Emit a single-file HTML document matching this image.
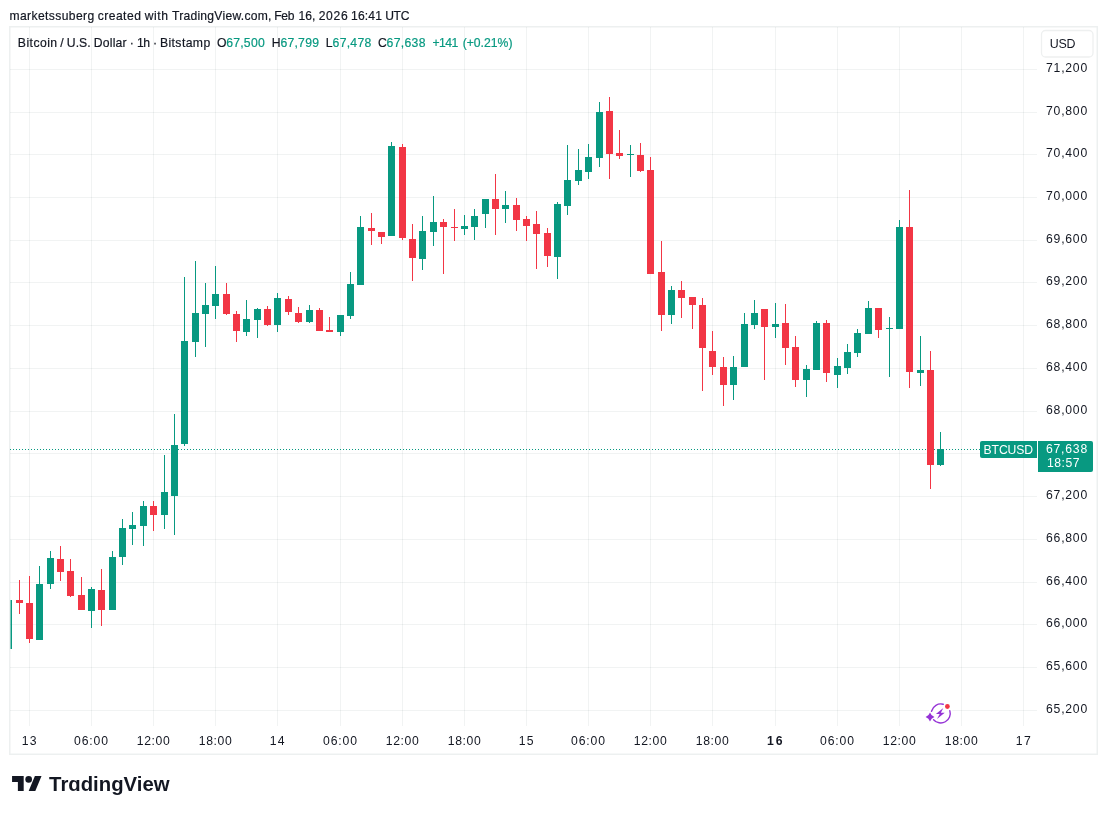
<!DOCTYPE html>
<html><head><meta charset="utf-8"><style>
html,body{margin:0;padding:0;background:#fff;}
body{width:1107px;height:814px;overflow:hidden;position:relative;font-family:"Liberation Sans",sans-serif;}
svg{position:absolute;left:0;top:0;will-change:transform;}
svg text{font-family:"Liberation Sans",sans-serif;}
</style></head><body>
<svg width="1107" height="814" viewBox="0 0 1107 814">
<defs><clipPath id="ca"><rect x="10.5" y="27" width="1026.5" height="699"/></clipPath></defs>
<rect x="9.75" y="26.75" width="1087.5" height="727.5" fill="none" stroke="#EDF0F0" stroke-width="1.5"/>
<g><rect x="29" y="27" width="1" height="699" fill="rgba(30,60,62,0.062)"/><rect x="91" y="27" width="1" height="699" fill="rgba(30,60,62,0.062)"/><rect x="153" y="27" width="1" height="699" fill="rgba(30,60,62,0.062)"/><rect x="215" y="27" width="1" height="699" fill="rgba(30,60,62,0.062)"/><rect x="277" y="27" width="1" height="699" fill="rgba(30,60,62,0.062)"/><rect x="340" y="27" width="1" height="699" fill="rgba(30,60,62,0.062)"/><rect x="402" y="27" width="1" height="699" fill="rgba(30,60,62,0.062)"/><rect x="464" y="27" width="1" height="699" fill="rgba(30,60,62,0.062)"/><rect x="526" y="27" width="1" height="699" fill="rgba(30,60,62,0.062)"/><rect x="588" y="27" width="1" height="699" fill="rgba(30,60,62,0.062)"/><rect x="650" y="27" width="1" height="699" fill="rgba(30,60,62,0.062)"/><rect x="712" y="27" width="1" height="699" fill="rgba(30,60,62,0.062)"/><rect x="775" y="27" width="1" height="699" fill="rgba(30,60,62,0.062)"/><rect x="837" y="27" width="1" height="699" fill="rgba(30,60,62,0.062)"/><rect x="899" y="27" width="1" height="699" fill="rgba(30,60,62,0.062)"/><rect x="961" y="27" width="1" height="699" fill="rgba(30,60,62,0.062)"/><rect x="1023" y="27" width="1" height="699" fill="rgba(30,60,62,0.062)"/><rect x="10" y="69" width="1027" height="1" fill="rgba(30,60,62,0.062)"/><rect x="10" y="112" width="1027" height="1" fill="rgba(30,60,62,0.062)"/><rect x="10" y="154" width="1027" height="1" fill="rgba(30,60,62,0.062)"/><rect x="10" y="197" width="1027" height="1" fill="rgba(30,60,62,0.062)"/><rect x="10" y="240" width="1027" height="1" fill="rgba(30,60,62,0.062)"/><rect x="10" y="282" width="1027" height="1" fill="rgba(30,60,62,0.062)"/><rect x="10" y="325" width="1027" height="1" fill="rgba(30,60,62,0.062)"/><rect x="10" y="368" width="1027" height="1" fill="rgba(30,60,62,0.062)"/><rect x="10" y="411" width="1027" height="1" fill="rgba(30,60,62,0.062)"/><rect x="10" y="453" width="1027" height="1" fill="rgba(30,60,62,0.062)"/><rect x="10" y="496" width="1027" height="1" fill="rgba(30,60,62,0.062)"/><rect x="10" y="539" width="1027" height="1" fill="rgba(30,60,62,0.062)"/><rect x="10" y="582" width="1027" height="1" fill="rgba(30,60,62,0.062)"/><rect x="10" y="624" width="1027" height="1" fill="rgba(30,60,62,0.062)"/><rect x="10" y="667" width="1027" height="1" fill="rgba(30,60,62,0.062)"/><rect x="10" y="710" width="1027" height="1" fill="rgba(30,60,62,0.062)"/></g>
<line x1="10" y1="449.5" x2="980" y2="449.5" stroke="#089981" stroke-width="1" stroke-dasharray="1 2"/>
<g clip-path="url(#ca)"><rect x="8" y="600" width="1" height="49" fill="#089981"/><rect x="5" y="600" width="7" height="49" fill="#089981"/><rect x="19" y="580" width="1" height="34" fill="#F23645"/><rect x="16" y="600" width="7" height="3" fill="#F23645"/><rect x="29" y="576" width="1" height="67" fill="#F23645"/><rect x="26" y="603" width="7" height="36" fill="#F23645"/><rect x="39" y="566" width="1" height="74" fill="#089981"/><rect x="36" y="584" width="7" height="56" fill="#089981"/><rect x="50" y="551" width="1" height="38" fill="#089981"/><rect x="47" y="558" width="7" height="26" fill="#089981"/><rect x="60" y="546" width="1" height="35" fill="#F23645"/><rect x="57" y="559" width="7" height="13" fill="#F23645"/><rect x="70" y="559" width="1" height="38" fill="#F23645"/><rect x="67" y="571" width="7" height="25" fill="#F23645"/><rect x="81" y="577" width="1" height="33" fill="#F23645"/><rect x="78" y="595" width="7" height="15" fill="#F23645"/><rect x="91" y="587" width="1" height="41" fill="#089981"/><rect x="88" y="589" width="7" height="22" fill="#089981"/><rect x="101" y="569" width="1" height="57" fill="#F23645"/><rect x="98" y="590" width="7" height="20" fill="#F23645"/><rect x="112" y="551" width="1" height="59" fill="#089981"/><rect x="109" y="557" width="7" height="53" fill="#089981"/><rect x="122" y="519" width="1" height="46" fill="#089981"/><rect x="119" y="528" width="7" height="29" fill="#089981"/><rect x="132" y="512" width="1" height="33" fill="#089981"/><rect x="129" y="525" width="7" height="4" fill="#089981"/><rect x="143" y="501" width="1" height="45" fill="#089981"/><rect x="140" y="506" width="7" height="20" fill="#089981"/><rect x="153" y="501" width="1" height="30" fill="#F23645"/><rect x="150" y="506" width="7" height="9" fill="#F23645"/><rect x="164" y="455" width="1" height="74" fill="#089981"/><rect x="161" y="492" width="7" height="23" fill="#089981"/><rect x="174" y="414" width="1" height="121" fill="#089981"/><rect x="171" y="445" width="7" height="51" fill="#089981"/><rect x="184" y="277" width="1" height="169" fill="#089981"/><rect x="181" y="341" width="7" height="103" fill="#089981"/><rect x="195" y="261" width="1" height="96" fill="#089981"/><rect x="192" y="313" width="7" height="29" fill="#089981"/><rect x="205" y="283" width="1" height="64" fill="#089981"/><rect x="202" y="305" width="7" height="9" fill="#089981"/><rect x="215" y="266" width="1" height="53" fill="#089981"/><rect x="212" y="294" width="7" height="12" fill="#089981"/><rect x="226" y="283" width="1" height="32" fill="#F23645"/><rect x="223" y="294" width="7" height="20" fill="#F23645"/><rect x="236" y="311" width="1" height="31" fill="#F23645"/><rect x="233" y="314" width="7" height="17" fill="#F23645"/><rect x="246" y="300" width="1" height="36" fill="#089981"/><rect x="243" y="319" width="7" height="13" fill="#089981"/><rect x="257" y="308" width="1" height="30" fill="#089981"/><rect x="254" y="309" width="7" height="11" fill="#089981"/><rect x="267" y="306" width="1" height="20" fill="#F23645"/><rect x="264" y="309" width="7" height="16" fill="#F23645"/><rect x="277" y="293" width="1" height="39" fill="#089981"/><rect x="274" y="298" width="7" height="27" fill="#089981"/><rect x="288" y="296" width="1" height="19" fill="#F23645"/><rect x="285" y="299" width="7" height="13" fill="#F23645"/><rect x="298" y="307" width="1" height="16" fill="#F23645"/><rect x="295" y="313" width="7" height="9" fill="#F23645"/><rect x="309" y="305" width="1" height="18" fill="#089981"/><rect x="306" y="310" width="7" height="12" fill="#089981"/><rect x="319" y="308" width="1" height="23" fill="#F23645"/><rect x="316" y="310" width="7" height="21" fill="#F23645"/><rect x="329" y="317" width="1" height="15" fill="#F23645"/><rect x="326" y="330" width="7" height="2" fill="#F23645"/><rect x="340" y="315" width="1" height="21" fill="#089981"/><rect x="337" y="315" width="7" height="17" fill="#089981"/><rect x="350" y="272" width="1" height="47" fill="#089981"/><rect x="347" y="284" width="7" height="32" fill="#089981"/><rect x="360" y="216" width="1" height="69" fill="#089981"/><rect x="357" y="227" width="7" height="58" fill="#089981"/><rect x="371" y="213" width="1" height="32" fill="#F23645"/><rect x="368" y="228" width="7" height="3" fill="#F23645"/><rect x="381" y="232" width="1" height="12" fill="#F23645"/><rect x="378" y="232" width="7" height="5" fill="#F23645"/><rect x="391" y="142" width="1" height="94" fill="#089981"/><rect x="388" y="146" width="7" height="90" fill="#089981"/><rect x="402" y="144" width="1" height="96" fill="#F23645"/><rect x="399" y="147" width="7" height="91" fill="#F23645"/><rect x="412" y="224" width="1" height="57" fill="#F23645"/><rect x="409" y="239" width="7" height="19" fill="#F23645"/><rect x="422" y="216" width="1" height="54" fill="#089981"/><rect x="419" y="231" width="7" height="28" fill="#089981"/><rect x="433" y="196" width="1" height="50" fill="#089981"/><rect x="430" y="222" width="7" height="10" fill="#089981"/><rect x="443" y="219" width="1" height="55" fill="#F23645"/><rect x="440" y="222" width="7" height="5" fill="#F23645"/><rect x="454" y="209" width="1" height="32" fill="#F23645"/><rect x="451" y="227" width="7" height="1" fill="#F23645"/><rect x="464" y="215" width="1" height="20" fill="#089981"/><rect x="461" y="226" width="7" height="3" fill="#089981"/><rect x="474" y="209" width="1" height="31" fill="#089981"/><rect x="471" y="216" width="7" height="11" fill="#089981"/><rect x="485" y="199" width="1" height="29" fill="#089981"/><rect x="482" y="199" width="7" height="15" fill="#089981"/><rect x="495" y="174" width="1" height="61" fill="#F23645"/><rect x="492" y="199" width="7" height="10" fill="#F23645"/><rect x="505" y="191" width="1" height="32" fill="#089981"/><rect x="502" y="205" width="7" height="4" fill="#089981"/><rect x="516" y="198" width="1" height="33" fill="#F23645"/><rect x="513" y="205" width="7" height="15" fill="#F23645"/><rect x="526" y="216" width="1" height="25" fill="#F23645"/><rect x="523" y="219" width="7" height="7" fill="#F23645"/><rect x="536" y="211" width="1" height="58" fill="#F23645"/><rect x="533" y="224" width="7" height="10" fill="#F23645"/><rect x="547" y="228" width="1" height="39" fill="#F23645"/><rect x="544" y="233" width="7" height="23" fill="#F23645"/><rect x="557" y="202" width="1" height="77" fill="#089981"/><rect x="554" y="204" width="7" height="53" fill="#089981"/><rect x="567" y="145" width="1" height="70" fill="#089981"/><rect x="564" y="180" width="7" height="26" fill="#089981"/><rect x="578" y="149" width="1" height="36" fill="#089981"/><rect x="575" y="170" width="7" height="11" fill="#089981"/><rect x="588" y="144" width="1" height="35" fill="#089981"/><rect x="585" y="157" width="7" height="15" fill="#089981"/><rect x="599" y="102" width="1" height="65" fill="#089981"/><rect x="596" y="112" width="7" height="46" fill="#089981"/><rect x="609" y="97" width="1" height="82" fill="#F23645"/><rect x="606" y="111" width="7" height="43" fill="#F23645"/><rect x="619" y="130" width="1" height="29" fill="#F23645"/><rect x="616" y="153" width="7" height="3" fill="#F23645"/><rect x="630" y="145" width="1" height="32" fill="#089981"/><rect x="627" y="154" width="7" height="1" fill="#089981"/><rect x="640" y="143" width="1" height="29" fill="#F23645"/><rect x="637" y="155" width="7" height="16" fill="#F23645"/><rect x="650" y="157" width="1" height="117" fill="#F23645"/><rect x="647" y="170" width="7" height="104" fill="#F23645"/><rect x="661" y="241" width="1" height="90" fill="#F23645"/><rect x="658" y="272" width="7" height="43" fill="#F23645"/><rect x="671" y="286" width="1" height="38" fill="#089981"/><rect x="668" y="290" width="7" height="25" fill="#089981"/><rect x="681" y="281" width="1" height="37" fill="#F23645"/><rect x="678" y="290" width="7" height="8" fill="#F23645"/><rect x="692" y="297" width="1" height="32" fill="#F23645"/><rect x="689" y="297" width="7" height="8" fill="#F23645"/><rect x="702" y="298" width="1" height="93" fill="#F23645"/><rect x="699" y="305" width="7" height="43" fill="#F23645"/><rect x="712" y="331" width="1" height="44" fill="#F23645"/><rect x="709" y="351" width="7" height="16" fill="#F23645"/><rect x="723" y="357" width="1" height="49" fill="#F23645"/><rect x="720" y="367" width="7" height="18" fill="#F23645"/><rect x="733" y="356" width="1" height="44" fill="#089981"/><rect x="730" y="367" width="7" height="18" fill="#089981"/><rect x="744" y="313" width="1" height="54" fill="#089981"/><rect x="741" y="324" width="7" height="43" fill="#089981"/><rect x="754" y="300" width="1" height="29" fill="#089981"/><rect x="751" y="313" width="7" height="12" fill="#089981"/><rect x="764" y="309" width="1" height="71" fill="#F23645"/><rect x="761" y="309" width="7" height="18" fill="#F23645"/><rect x="775" y="303" width="1" height="35" fill="#089981"/><rect x="772" y="324" width="7" height="3" fill="#089981"/><rect x="785" y="304" width="1" height="61" fill="#F23645"/><rect x="782" y="323" width="7" height="25" fill="#F23645"/><rect x="795" y="336" width="1" height="51" fill="#F23645"/><rect x="792" y="347" width="7" height="33" fill="#F23645"/><rect x="806" y="365" width="1" height="32" fill="#089981"/><rect x="803" y="369" width="7" height="11" fill="#089981"/><rect x="816" y="321" width="1" height="49" fill="#089981"/><rect x="813" y="323" width="7" height="47" fill="#089981"/><rect x="826" y="320" width="1" height="62" fill="#F23645"/><rect x="823" y="323" width="7" height="50" fill="#F23645"/><rect x="837" y="358" width="1" height="30" fill="#089981"/><rect x="834" y="366" width="7" height="9" fill="#089981"/><rect x="847" y="344" width="1" height="30" fill="#089981"/><rect x="844" y="352" width="7" height="16" fill="#089981"/><rect x="857" y="329" width="1" height="28" fill="#089981"/><rect x="854" y="333" width="7" height="20" fill="#089981"/><rect x="868" y="301" width="1" height="33" fill="#089981"/><rect x="865" y="308" width="7" height="26" fill="#089981"/><rect x="878" y="308" width="1" height="30" fill="#F23645"/><rect x="875" y="308" width="7" height="22" fill="#F23645"/><rect x="889" y="317" width="1" height="60" fill="#089981"/><rect x="886" y="328" width="7" height="1" fill="#089981"/><rect x="899" y="220" width="1" height="109" fill="#089981"/><rect x="896" y="227" width="7" height="102" fill="#089981"/><rect x="909" y="190" width="1" height="198" fill="#F23645"/><rect x="906" y="227" width="7" height="145" fill="#F23645"/><rect x="920" y="336" width="1" height="50" fill="#089981"/><rect x="917" y="370" width="7" height="3" fill="#089981"/><rect x="930" y="351" width="1" height="138" fill="#F23645"/><rect x="927" y="370" width="7" height="95" fill="#F23645"/><rect x="940" y="432" width="1" height="34" fill="#089981"/><rect x="937" y="449" width="7" height="16" fill="#089981"/></g>
<rect x="1041.5" y="30.5" width="51.5" height="26.5" rx="4" fill="#fff" stroke="#EEF0F0" stroke-width="1.3"/>
<text x="1049.74" y="48" font-size="12.4" fill="#131722" textLength="25.75" lengthAdjust="spacing">USD</text>
<path d="M982,441 H1037 V458 H982 A2,2 0 0 1 980,456 V443 A2,2 0 0 1 982,441 Z" fill="#089981"/>
<path d="M1038,441 H1091 A2,2 0 0 1 1093,443 V470 A2,2 0 0 1 1091,472 H1038 Z" fill="#089981"/>
<text x="983.6" y="453.6" font-size="12.2" fill="#fff" textLength="49.38" lengthAdjust="spacing">BTCUSD</text>
<text x="1045.88" y="453" font-size="12.2" fill="#fff" textLength="41.35" lengthAdjust="spacing">67,638</text>
<text x="1046.97" y="466.8" font-size="12.2" fill="#fff" textLength="32.64" lengthAdjust="spacing">18:57</text>
<text x="9.5" y="19.9" font-size="12.1" fill="#131722" textLength="84.78" lengthAdjust="spacing" stroke="#131722" stroke-width="0.2">marketssuberg</text><text x="97.69" y="19.9" font-size="12.1" fill="#131722" textLength="43.19" lengthAdjust="spacing" stroke="#131722" stroke-width="0.2">created</text><text x="144.82" y="19.9" font-size="12.1" fill="#131722" textLength="23.17" lengthAdjust="spacing" stroke="#131722" stroke-width="0.2">with</text><text x="171.93" y="19.9" font-size="12.1" fill="#131722" textLength="99.46" lengthAdjust="spacing" stroke="#131722" stroke-width="0.2">TradingView.com,</text><text x="274.31" y="19.9" font-size="12.1" fill="#131722" textLength="20.2" lengthAdjust="spacing" stroke="#131722" stroke-width="0.2">Feb</text><text x="298.38" y="19.9" font-size="12.1" fill="#131722" textLength="17.01" lengthAdjust="spacing" stroke="#131722" stroke-width="0.2">16,</text><text x="318.69" y="19.9" font-size="12.1" fill="#131722" textLength="28.94" lengthAdjust="spacing" stroke="#131722" stroke-width="0.2">2026</text><text x="351.08" y="19.9" font-size="12.1" fill="#131722" textLength="30.81" lengthAdjust="spacing" stroke="#131722" stroke-width="0.2">16:41</text><text x="385.17" y="19.9" font-size="12.1" fill="#131722" textLength="24.19" lengthAdjust="spacing" stroke="#131722" stroke-width="0.2">UTC</text><text x="17.8" y="46.8" font-size="12.2" fill="#131722" textLength="39.29" lengthAdjust="spacing" stroke="#131722" stroke-width="0.2">Bitcoin</text><text x="60.2" y="46.8" font-size="12.2" fill="#131722" textLength="3.39" lengthAdjust="spacing" stroke="#131722" stroke-width="0.2">/</text><text x="66.76" y="46.8" font-size="12.2" fill="#131722" textLength="23.96" lengthAdjust="spacing" stroke="#131722" stroke-width="0.2">U.S.</text><text x="93.7" y="46.8" font-size="12.2" fill="#131722" textLength="32.9" lengthAdjust="spacing" stroke="#131722" stroke-width="0.2">Dollar</text><text x="129.75" y="46.8" font-size="12.2" fill="#131722" textLength="4.06" lengthAdjust="spacing" stroke="#131722" stroke-width="0.2">·</text><text x="137.07" y="46.8" font-size="12.2" fill="#131722" textLength="13.02" lengthAdjust="spacing" stroke="#131722" stroke-width="0.2">1h</text><text x="152.95" y="46.8" font-size="12.2" fill="#131722" textLength="4.06" lengthAdjust="spacing" stroke="#131722" stroke-width="0.2">·</text><text x="159.9" y="46.8" font-size="12.2" fill="#131722" textLength="50.31" lengthAdjust="spacing" stroke="#131722" stroke-width="0.2">Bitstamp</text><text x="217.02" y="46.8" font-size="12.2" fill="#131722" textLength="9.49" lengthAdjust="spacing" stroke="#131722" stroke-width="0.2">O</text><text x="226.18" y="46.8" font-size="12.2" fill="#089981" textLength="38.5" lengthAdjust="spacing" stroke="#089981" stroke-width="0.2">67,500</text><text x="271.7" y="46.8" font-size="12.2" fill="#131722" textLength="8.81" lengthAdjust="spacing" stroke="#131722" stroke-width="0.2">H</text><text x="280.38" y="46.8" font-size="12.2" fill="#089981" textLength="38.6" lengthAdjust="spacing" stroke="#089981" stroke-width="0.2">67,799</text><text x="325.7" y="46.8" font-size="12.2" fill="#131722" textLength="6.79" lengthAdjust="spacing" stroke="#131722" stroke-width="0.2">L</text><text x="332.58" y="46.8" font-size="12.2" fill="#089981" textLength="38.65" lengthAdjust="spacing" stroke="#089981" stroke-width="0.2">67,478</text><text x="377.88" y="46.8" font-size="12.2" fill="#131722" textLength="8.81" lengthAdjust="spacing" stroke="#131722" stroke-width="0.2">C</text><text x="386.58" y="46.8" font-size="12.2" fill="#089981" textLength="38.85" lengthAdjust="spacing" stroke="#089981" stroke-width="0.2">67,638</text><text x="432.4" y="46.8" font-size="12.2" fill="#089981" textLength="25.89" lengthAdjust="spacing" stroke="#089981" stroke-width="0.2">+141</text><text x="462.64" y="46.8" font-size="12.2" fill="#089981" textLength="49.81" lengthAdjust="spacing" stroke="#089981" stroke-width="0.2">(+0.21%)</text><text x="1046.07" y="71.9" font-size="12.2" fill="#131722" textLength="41.1" lengthAdjust="spacing">71,200</text><text x="1046.07" y="114.9" font-size="12.2" fill="#131722" textLength="41.1" lengthAdjust="spacing">70,800</text><text x="1046.07" y="156.9" font-size="12.2" fill="#131722" textLength="41.1" lengthAdjust="spacing">70,400</text><text x="1046.07" y="199.9" font-size="12.2" fill="#131722" textLength="41.1" lengthAdjust="spacing">70,000</text><text x="1046.08" y="242.9" font-size="12.2" fill="#131722" textLength="41.1" lengthAdjust="spacing">69,600</text><text x="1046.08" y="284.9" font-size="12.2" fill="#131722" textLength="41.1" lengthAdjust="spacing">69,200</text><text x="1046.08" y="327.9" font-size="12.2" fill="#131722" textLength="41.1" lengthAdjust="spacing">68,800</text><text x="1046.08" y="370.9" font-size="12.2" fill="#131722" textLength="41.1" lengthAdjust="spacing">68,400</text><text x="1046.08" y="413.9" font-size="12.2" fill="#131722" textLength="41.1" lengthAdjust="spacing">68,000</text><text x="1046.08" y="498.9" font-size="12.2" fill="#131722" textLength="41.1" lengthAdjust="spacing">67,200</text><text x="1046.08" y="541.9" font-size="12.2" fill="#131722" textLength="41.1" lengthAdjust="spacing">66,800</text><text x="1046.08" y="584.9" font-size="12.2" fill="#131722" textLength="41.1" lengthAdjust="spacing">66,400</text><text x="1046.08" y="626.9" font-size="12.2" fill="#131722" textLength="41.1" lengthAdjust="spacing">66,000</text><text x="1046.08" y="669.9" font-size="12.2" fill="#131722" textLength="41.1" lengthAdjust="spacing">65,600</text><text x="1046.08" y="712.9" font-size="12.2" fill="#131722" textLength="41.1" lengthAdjust="spacing">65,200</text><text x="21.77" y="744.8" font-size="12.2" fill="#131722" textLength="14.87" lengthAdjust="spacing">13</text><text x="74.12" y="744.8" font-size="12.2" fill="#131722" textLength="33.85" lengthAdjust="spacing">06:00</text><text x="136.72" y="744.8" font-size="12.2" fill="#131722" textLength="33.11" lengthAdjust="spacing">12:00</text><text x="198.72" y="744.8" font-size="12.2" fill="#131722" textLength="33.11" lengthAdjust="spacing">18:00</text><text x="269.77" y="744.8" font-size="12.2" fill="#131722" textLength="14.69" lengthAdjust="spacing">14</text><text x="323.12" y="744.8" font-size="12.2" fill="#131722" textLength="33.85" lengthAdjust="spacing">06:00</text><text x="385.72" y="744.8" font-size="12.2" fill="#131722" textLength="33.11" lengthAdjust="spacing">12:00</text><text x="447.72" y="744.8" font-size="12.2" fill="#131722" textLength="33.11" lengthAdjust="spacing">18:00</text><text x="518.77" y="744.8" font-size="12.2" fill="#131722" textLength="14.84" lengthAdjust="spacing">15</text><text x="571.12" y="744.8" font-size="12.2" fill="#131722" textLength="33.85" lengthAdjust="spacing">06:00</text><text x="633.72" y="744.8" font-size="12.2" fill="#131722" textLength="33.11" lengthAdjust="spacing">12:00</text><text x="695.72" y="744.8" font-size="12.2" fill="#131722" textLength="33.11" lengthAdjust="spacing">18:00</text><text x="766.93" y="744.8" font-size="12.2" fill="#131722" textLength="15.61" lengthAdjust="spacing" font-weight="bold">16</text><text x="820.12" y="744.8" font-size="12.2" fill="#131722" textLength="33.85" lengthAdjust="spacing">06:00</text><text x="882.72" y="744.8" font-size="12.2" fill="#131722" textLength="33.11" lengthAdjust="spacing">12:00</text><text x="944.72" y="744.8" font-size="12.2" fill="#131722" textLength="33.11" lengthAdjust="spacing">18:00</text><text x="1015.77" y="744.8" font-size="12.2" fill="#131722" textLength="14.94" lengthAdjust="spacing">17</text>
<g fill="#131722"><g transform="translate(12.07,772.75) scale(0.83)"><path d="M14 22H7V11H0V4h14v18zM28 22h-8l7.5-18h8L28 22z"/><circle cx="20" cy="8" r="4"/></g>
<text x="49.1" y="790.7" font-size="20.9" font-weight="bold" textLength="120.4" lengthAdjust="spacingAndGlyphs">Tr&#x251;dingView</text></g>
<circle cx="940.6" cy="713.4" r="12" fill="#fff"/>
<g fill="none" stroke="#9533D6" stroke-width="1.4" stroke-linecap="round">
<path d="M943.21,704.27 A9.5,9.5 0 0 0 931.52,711.22"/>
<path d="M933.58,719.68 A9.5,9.5 0 0 0 949.83,710.67"/>
</g>
<circle cx="947.4" cy="706.5" r="2.4" fill="#F23645"/>
<path d="M930,712.6 Q931.1,715.9 934.4,717 Q931.1,718.1 930,721.4 Q928.9,718.1 925.6,717 Q928.9,715.9 930,712.6 Z" fill="#9533D6"/>
<path d="M943.3,708.1 L935.9,714.1 L939.7,714.1 L937.0,719.0 L944.7,712.8 L940.9,712.8 Z" fill="#9533D6"/>

</svg>
</body></html>
